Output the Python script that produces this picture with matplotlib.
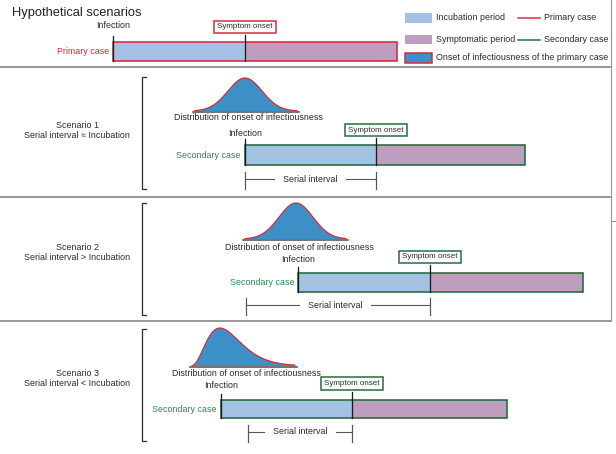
import numpy as np
import matplotlib
matplotlib.use("Agg")
import matplotlib.pyplot as plt
from matplotlib.patches import Rectangle, Polygon

plt.rcParams['font.family'] = ['Liberation Sans', 'DejaVu Sans']

# ---------------- data (timeline positions, arbitrary time units on the drawing axis) -------------
case_labels = ["Primary case", "Secondary case", "Secondary case", "Secondary case"]
infection_t = [113, 245, 298, 221]
onset_t = [245, 376, 430, 352]
end_t = [397, 525, 583, 507]

scenario_titles = ["Scenario 1", "Scenario 2", "Scenario 3"]
scenario_subtitles = ["Serial interval \u2248 Incubation",
                      "Serial interval > Incubation",
                      "Serial interval < Incubation"]
serial_start_t = [245, 246, 248]          # primary symptom onset
serial_end_t = [376, 430, 352]            # secondary symptom onset
serial_label_t = [310, 335, 300]

# infectiousness distributions: (kind, location, spread, shape, baseline range)
dist_kind = ["normal", "normal", "gamma"]
dist_loc = [245, 296, 190]
dist_scale = [17, 17, 10]
dist_shape = [None, None, 4.0]
dist_range = [(193, 299), (243, 348), (190, 297)]

legend_fill_labels = ["Incubation period", "Symptomatic period",
                      "Onset of infectiousness of the primary case"]
legend_line_labels = ["Primary case", "Secondary case"]

# ---------------- styles ----------------
C_INC = "#a3c1e2"
C_SYM = "#bf9dbf"
C_DIST = "#3d8fc7"
C_RED = "#d42a3c"
C_GREEN_EDGE = "#1f6a3b"
C_GREEN_TXT = "#2b8a50"
C_TXT = "#2a2a2a"
C_SEP = "#9a9a9a"
PX = 0.72  # points per pixel at 100 dpi

fig = plt.figure(figsize=(6.16, 4.54), dpi=100)
ax = fig.add_axes([0, 0, 1, 1])
ax.set_xlim(0, 616)
ax.set_ylim(454, 0)
ax.axis("off")

FS = 6.4

# title
ax.text(12, 13, "Hypothetical scenarios", fontsize=9.3, color="#222", ha="left", va="center")

# frame / separators
for ysep in [67, 197, 321]:
    ax.plot([0, 611], [ysep, ysep], color=C_SEP, lw=2 * PX, solid_capstyle="butt")
ax.plot([611, 611], [0, 321], color=C_SEP, lw=1.2 * PX)
ax.plot([611, 616], [221, 221], color=C_SEP, lw=1 * PX)

# legend
sw_y = [(13, 23), (35, 44), (53, 63)]
sw_col = [C_INC, C_SYM, C_DIST]
for i, lab in enumerate(legend_fill_labels):
    y0, y1 = sw_y[i]
    ec = C_RED if i == 2 else "none"
    ax.add_patch(Rectangle((405, y0), 27, y1 - y0, facecolor=sw_col[i], edgecolor=ec,
                           lw=1.5 * PX if i == 2 else 0))
    ax.text(436, (y0 + y1) / 2, lab, fontsize=FS, color=C_TXT, ha="left", va="center")
for i, lab in enumerate(legend_line_labels):
    yy = [18, 40][i]
    ax.plot([518, 540], [yy, yy], color=[C_RED, C_GREEN_EDGE][i], lw=1.5 * PX)
    ax.text(544, yy, lab, fontsize=FS, color=C_TXT, ha="left", va="center")

# case rows geometry
bar_y = [(42, 61), (145, 165), (273, 292), (400, 418)]
inf_text_y = [26, 133, 259, 385]
box_y = [(21, 33), (124, 136), (251, 263), (377, 390)]
edge_cols = [C_RED, C_GREEN_EDGE, C_GREEN_EDGE, C_GREEN_EDGE]
lab_cols = [C_RED, C_GREEN_TXT, C_GREEN_TXT, C_GREEN_TXT]

for i in range(4):
    y0, y1 = bar_y[i]
    xi, xo, xe = infection_t[i], onset_t[i], end_t[i]
    ax.add_patch(Rectangle((xi, y0), xo - xi, y1 - y0, facecolor=C_INC, edgecolor="none"))
    ax.add_patch(Rectangle((xo, y0), xe - xo, y1 - y0, facecolor=C_SYM, edgecolor="none"))
    ax.add_patch(Rectangle((xi, y0), xe - xi, y1 - y0, facecolor="none",
                           edgecolor=edge_cols[i], lw=1.6 * PX))
    # infection & onset markers
    ax.plot([xi, xi], [y0 - 6, y1], color="#1a1a1a", lw=1.3 * PX)
    ax.plot([xo, xo], [box_y[i][1] + 2, y1], color="#1a1a1a", lw=1.3 * PX)
    ax.text(xi, inf_text_y[i], "Infection", fontsize=FS, color=C_TXT, ha="center", va="center")
    # symptom onset box
    b0, b1 = box_y[i]
    ax.add_patch(Rectangle((xo - 31, b0), 62, b1 - b0, facecolor="white",
                           edgecolor=edge_cols[i], lw=1.5 * PX))
    ax.text(xo, (b0 + b1) / 2, "Symptom onset", fontsize=5.8, color=C_TXT,
            ha="center", va="center")
    ax.text(xi - 4, (y0 + y1) / 2, case_labels[i], fontsize=FS, color=lab_cols[i],
            ha="right", va="center")

# scenarios
sec_top = [77, 203, 329]
sec_bot = [189, 315, 441]
title_y = [125, 247, 373]
dist_base = [111, 239, 366]
dist_height = [33, 36, 38]
dist_text_y = [118, 247, 374]
dist_text_x = [248, 299, 246]
serial_y = [179, 305, 432]

for s in range(3):
    # bracket
    ax.plot([146, 142, 142, 146], [sec_top[s], sec_top[s], sec_bot[s], sec_bot[s]],
            color="#333", lw=1.3 * PX, solid_joinstyle="miter")
    ax.text(77, title_y[s], scenario_titles[s], fontsize=FS, color=C_TXT, ha="center", va="center")
    ax.text(77, title_y[s] + 11, scenario_subtitles[s], fontsize=FS, color=C_TXT,
            ha="center", va="center")

    # distribution curve
    a, b = dist_range[s]
    xs = np.linspace(a + 2, b - 2, 300)
    if dist_kind[s] == "normal":
        dens = np.exp(-0.5 * ((xs - dist_loc[s]) / dist_scale[s]) ** 2)
    else:
        t = np.clip(xs - dist_loc[s], 0, None)
        k = dist_shape[s]
        dens = t ** (k - 1) * np.exp(-t / dist_scale[s])
    dens = dens / dens.max()
    ys = dist_base[s] - dens * dist_height[s]
    poly = np.column_stack([np.r_[xs, xs[::-1]], np.r_[ys, np.full_like(xs, dist_base[s])]])
    ax.add_patch(Polygon(poly, closed=True, facecolor=C_DIST, edgecolor="none"))
    ax.plot(xs, ys, color=C_RED, lw=1.2 * PX)
    ax.plot([a, b], [dist_base[s] + 0.8, dist_base[s] + 0.8], color="#555", lw=1.6 * PX)
    ax.text(dist_text_x[s], dist_text_y[s],
            "Distribution of onset of infectiousness",
            fontsize=FS, color=C_TXT, ha="center", va="center")

    # serial interval
    x0, x1 = serial_start_t[s], serial_end_t[s]
    yc = serial_y[s]
    mid = serial_label_t[s]
    for xx in (x0, x1):
        ax.plot([xx, xx], [yc - 7, yc + 10], color="#555", lw=1.2 * PX)
    ax.plot([x0, mid - 36], [yc, yc], color="#555", lw=1.1 * PX)
    ax.plot([mid + 36, x1], [yc, yc], color="#555", lw=1.1 * PX)
    ax.text(mid, yc, "Serial interval", fontsize=FS, color=C_TXT, ha="center", va="center")

fig.savefig("out.png", dpi=100)
